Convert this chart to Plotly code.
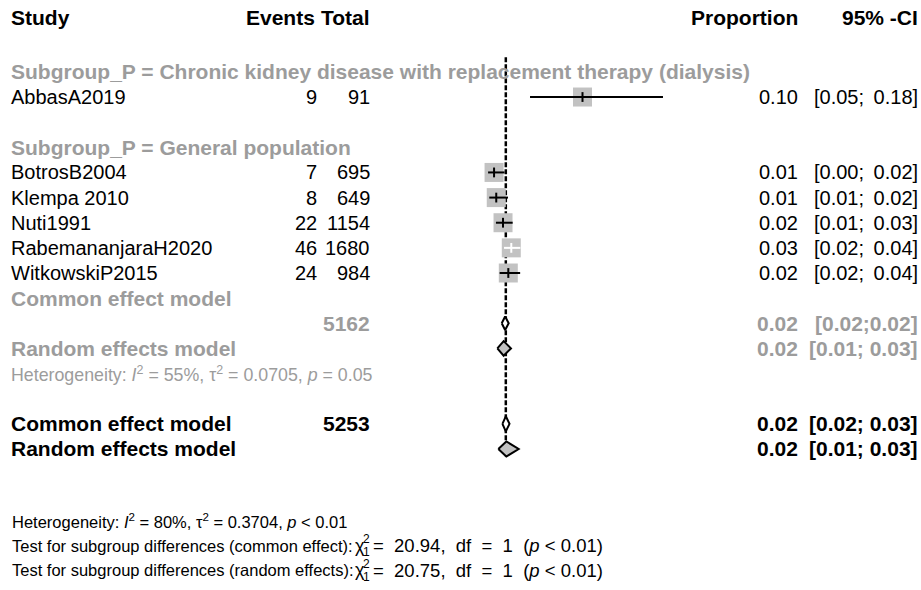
import plotly.graph_objects as go

# ---- data -------------------------------------------------------------
studies = ["AbbasA2019", "BotrosB2004", "Klempa 2010", "Nuti1991",
           "RabemananjaraH2020", "WitkowskiP2015"]
events = [9, 7, 8, 22, 46, 24]
totals = [91, 695, 649, 1154, 1680, 984]
prop = [0.0989, 0.0101, 0.0123, 0.0191, 0.0274, 0.0244]
ci_lo = [0.0462, 0.0041, 0.0053, 0.0120, 0.0201, 0.0157]
ci_hi = [0.1797, 0.0206, 0.0241, 0.0288, 0.0365, 0.0363]

subgroups = ["Chronic kidney disease with replacement therapy (dialysis)",
             "General population"]

# pooled estimates for the general population subgroup
gp_total = 5162
gp_common = [0.0212, 0.0178, 0.0248]
gp_random = [0.0197, 0.0134, 0.0271]
gp_het = "Heterogeneity: <i>I</i><sup>2</sup> = 55%, \u03c4<sup>2</sup> = 0.0705, <i>p</i> = 0.05"

# overall pooled estimates
all_total = 5253
all_common = [0.0219, 0.0185, 0.0256]
all_random = [0.0224, 0.0144, 0.0348]
all_het = "Heterogeneity: <i>I</i><sup>2</sup> = 80%, \u03c4<sup>2</sup> = 0.3704, <i>p</i> < 0.01"
test_labels = ["Test for subgroup differences (common effect):",
               "Test for subgroup differences (random effects):"]
test_chi2 = ["20.94", "20.75"]
test_df = [1, 1]
test_p = ["< 0.01", "< 0.01"]

# ---- layout constants ------------------------------------------------
W, H = 921, 590
ROW0, ROWH = 21.6, 25.14          # pixel centre of row 0 and row height
PX0, PXU = 484.0, 996.0           # pixel of proportion 0 and px per unit
FONT = "Liberation Sans, Arial, sans-serif"
GRAY_TXT = "#9c9c9c"
BOX = "#c2c2c2"
SQ = 19                           # study square size in px
FS_REG, FS_BOLD = 20, 21

x_range = [(0 - PX0) / PXU, (W - PX0) / PXU]
y_range = [(H - ROW0) / ROWH, (0 - ROW0) / ROWH]

# row assignments
r_head = -0.15
r_sub1 = 2
r_study = [3, 6, 7, 8, 9, 10]
r_sub2 = 5
r_gp_cl, r_gp_c, r_gp_r, r_gp_h = 11, 12, 13, 14
r_all_c, r_all_r = 16, 17
r_foot = [19.87, 20.85, 21.82]

fig = go.Figure()

# reference line at the overall common-effect estimate
fig.add_trace(go.Scatter(x=[all_common[0], all_common[0]], y=[1.42, 17.3],
                         mode="lines", line=dict(color="black", width=2.5, dash="5px,2px"),
                         hoverinfo="skip", showlegend=False))

# study squares
fig.add_trace(go.Scatter(x=prop, y=r_study, mode="markers",
                         marker=dict(symbol="square", size=SQ, color=BOX, line=dict(width=0)),
                         hoverinfo="skip", showlegend=False))

# confidence intervals: white when the interval fits inside its square
half = (SQ / 2) / PXU
for colour in ["black", "white"]:
    xs, ys, tx, ty = [], [], [], []
    for p, lo, hi, r in zip(prop, ci_lo, ci_hi, r_study):
        inside = (p - lo) < half and (hi - p) < half
        if (colour == "white") == inside:
            xs += [lo, hi, None]
            ys += [r, r, None]
            tx.append(p)
            ty.append(r)
    fig.add_trace(go.Scatter(x=xs, y=ys, mode="lines", line=dict(color=colour, width=2),
                             hoverinfo="skip", showlegend=False))
    fig.add_trace(go.Scatter(x=tx, y=ty, mode="markers",
                             marker=dict(symbol="line-ns", size=7, line=dict(color=colour, width=2)),
                             hoverinfo="skip", showlegend=False))

# pooled diamonds
def diamond(est, r, fill, hh=0.29):
    p, lo, hi = est
    fig.add_trace(go.Scatter(x=[lo, p, hi, p, lo], y=[r, r - hh, r, r + hh, r],
                             mode="lines", fill="toself", fillcolor=fill,
                             line=dict(color="black", width=2),
                             hoverinfo="skip", showlegend=False))

diamond(gp_common, r_gp_c, "white", 0.27)
diamond(gp_random, r_gp_r, BOX)
diamond(all_common, r_all_c, "white", 0.3)
diamond(all_random, r_all_r, BOX, 0.3)

# ---- text -------------------------------------------------------------
ann = []

def txt(xpx, r, s, anchor="left", size=FS_REG, color="black", bold=False):
    if bold:
        s = "<b>" + s + "</b>"
    ann.append(dict(x=xpx / W, y=r, xref="paper", yref="y", text=s, showarrow=False,
                    xanchor=anchor, yanchor="middle", borderpad=0,
                    font=dict(family=FONT, size=size, color=color)))

def ci_text(lo, hi, sep="; \u2009"):
    return f"[{lo:.2f}{sep}{hi:.2f}]"

X_STUDY, X_EV, X_TOT, X_PROP, X_CI = 10, 318, 371, 799, 919

txt(X_STUDY, r_head, "Study", size=FS_BOLD, bold=True)
txt(316, r_head, "Events", "right", size=FS_BOLD, bold=True)
txt(X_TOT, r_head, "Total", "right", size=FS_BOLD, bold=True)
txt(X_PROP, r_head, "Proportion", "right", size=FS_BOLD, bold=True)
txt(X_CI, r_head, "95% -CI", "right", size=FS_BOLD, bold=True)

txt(X_STUDY, r_sub1, "Subgroup_P = " + subgroups[0], size=FS_BOLD, color=GRAY_TXT, bold=True)
txt(X_STUDY, r_sub2, "Subgroup_P = " + subgroups[1], size=FS_BOLD, color=GRAY_TXT, bold=True)

for name, e, n, p, lo, hi, r in zip(studies, events, totals, prop, ci_lo, ci_hi, r_study):
    txt(X_STUDY, r, name)
    txt(X_EV, r, str(e), "right")
    txt(X_TOT, r, str(n), "right")
    txt(X_PROP, r, f"{p:.2f}", "right")
    txt(X_CI, r, ci_text(lo, hi), "right")

# subgroup summaries
G = dict(size=FS_BOLD, color=GRAY_TXT, bold=True)
txt(X_STUDY, r_gp_cl, "Common effect model", **G)
txt(X_TOT, r_gp_c, str(gp_total), "right", **G)
txt(X_PROP, r_gp_c, f"{gp_common[0]:.2f}", "right", **G)
txt(X_CI, r_gp_c, ci_text(gp_common[1], gp_common[2], ";"), "right", **G)
txt(X_STUDY, r_gp_r, "Random effects model", **G)
txt(X_PROP, r_gp_r, f"{gp_random[0]:.2f}", "right", **G)
txt(X_CI, r_gp_r, ci_text(gp_random[1], gp_random[2], "; "), "right", **G)
txt(X_STUDY, r_gp_h, gp_het, size=17.8, color=GRAY_TXT)

# overall summaries
B = dict(size=FS_BOLD, bold=True)
txt(X_STUDY, r_all_c, "Common effect model", **B)
txt(X_TOT, r_all_c, str(all_total), "right", **B)
txt(X_PROP, r_all_c, f"{all_common[0]:.2f}", "right", **B)
txt(X_CI, r_all_c, ci_text(all_common[1], all_common[2], "; "), "right", **B)
txt(X_STUDY, r_all_r, "Random effects model", **B)
txt(X_PROP, r_all_r, f"{all_random[0]:.2f}", "right", **B)
txt(X_CI, r_all_r, ci_text(all_random[1], all_random[2], "; "), "right", **B)

# footnotes
FS = 16.5
NB = "\u00a0"
txt(11, r_foot[0], all_het, size=FS)
for lab, chi, df, pv, r in zip(test_labels, test_chi2, test_df, test_p, r_foot[1:]):
    txt(11, r, lab, size=FS)
    txt(354, r, "\u03c7", size=18)
    txt(362, r - 0.26, "2", size=12)
    txt(362, r + 0.26, "1", size=12)
    rest = (f"={NB*2}{chi},{NB*2}df{NB*2}={NB*2}{df}{NB*2}(<i>p</i> {pv})")
    txt(372, r, rest, size=18.5)

fig.update_layout(
    width=W, height=H, margin=dict(l=0, r=0, t=0, b=0),
    paper_bgcolor="white", plot_bgcolor="white",
    xaxis=dict(range=x_range, visible=False, fixedrange=True),
    yaxis=dict(range=y_range, visible=False, fixedrange=True),
    annotations=ann, showlegend=False,
)

fig.write_html("out.html")
